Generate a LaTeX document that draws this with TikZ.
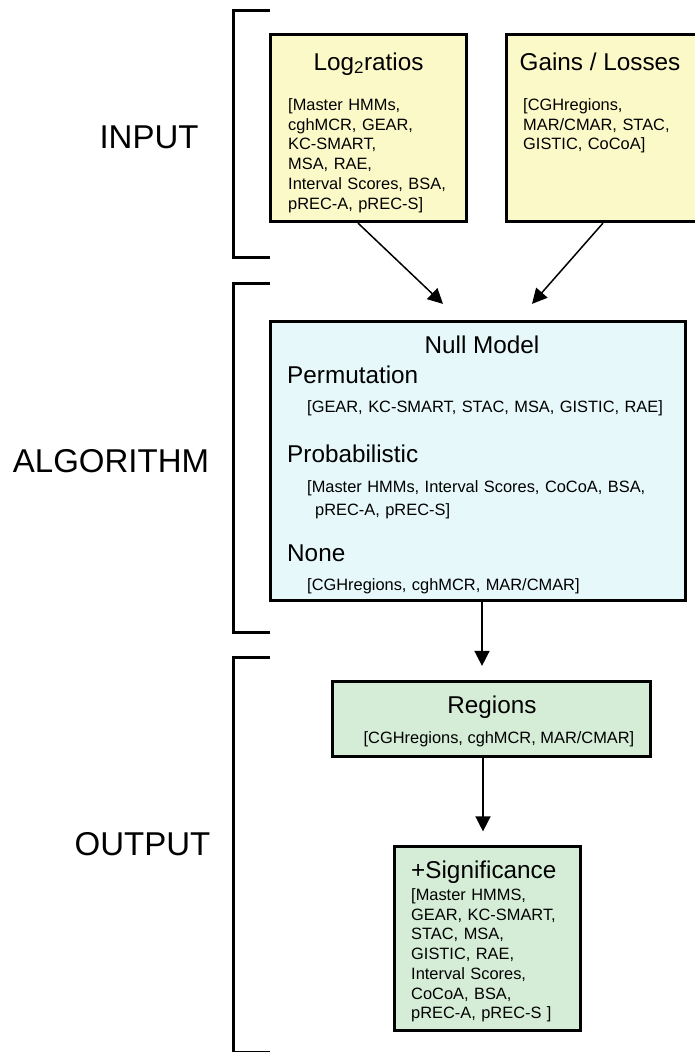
\documentclass[tikz,border=0pt]{standalone}
\usepackage{fontspec}
\setmainfont{Liberation Sans}
\usetikzlibrary{arrows.meta, positioning}
\definecolor{cinput}{HTML}{FCF9C9}
\definecolor{calgo}{HTML}{E6F8FA}
\definecolor{cout}{HTML}{D5EDD7}
\tikzset{
  % riquadro generico
  block/.style={draw=black, line width=3.2pt, inner sep=0pt},
  inblock/.style={block, fill=cinput},
  algblock/.style={block, fill=calgo},
  outblock/.style={block, fill=cout},
  % titoli e liste di metodi
  ttl/.style={font=\fontsize{24.3}{27}\selectfont, inner sep=0pt},
  lst/.style={font=\fontsize{16.4}{19.7}\selectfont, inner sep=0pt},
  lstw/.style={lst, align=left, text width=#1},
  % nome della fase
  stage/.style={font=\fontsize{33}{36}\selectfont, inner sep=0pt},
  % parentesi laterali
  brk/.style={line width=3pt},
  % frecce del flusso
  flow/.style={-{Triangle[length=15pt,width=15pt]}, line width=1.5pt},
}

\begin{document}
\begin{tikzpicture}[x=1pt, y=-1pt]
  \useasboundingbox (0,0) rectangle (694,1052);
  % fasi
  \draw[brk] (270,10) -| (233,257) -- (270,257);
  \draw[brk] (270,283) -| (233,632) -- (270,632);
  \draw[brk] (270,657) -| (233,1052) -- (270,1052);
  \node[stage, anchor=base] (lin) at (149,148) {INPUT};
  \node[stage, anchor=base] (lalg) at (111,472) {ALGORITHM};
  \node[stage, anchor=base] (lout) at (142.5,855) {OUTPUT};

  % ingresso
  \node[inblock, minimum width=196pt, minimum height=187pt] (logr) at (368.5,128) {};
  \node[inblock, minimum width=193pt, minimum height=187pt] (gain) at (603,128) {};
  \node[ttl, anchor=base] (logrt) at (368.5,70) {Log\textsubscript{2}ratios};
  \node[lstw=176pt, anchor=base west] (logrl) at (288,110.5)
    {[Master HMMs,\\ cghMCR, GEAR,\\ KC-SMART,\\ MSA, RAE,\\ Interval Scores, BSA,\\ pREC-A, pREC-S]};
  \node[ttl, anchor=base] (gaint) at (600,70) {Gains / Losses};
  \node[lstw=170pt, anchor=base west] (gainl) at (523,110.5)
    {[CGHregions,\\ MAR/CMAR, STAC,\\ GISTIC, CoCoA]};

  % modello nullo
  \node[algblock, minimum width=415pt, minimum height=279pt] (nullm) at (478,461) {};
  \node[ttl, anchor=base] (nullt) at (482,353.5) {Null Model};
  \node[ttl, anchor=base west] (perm) at (287,383.5) {Permutation};
  \node[lstw=370pt, anchor=base west] (perml) at (307,412.5) {[GEAR, KC-SMART, STAC, MSA, GISTIC, RAE]};
  \node[ttl, anchor=base west] (prob) at (287,462) {Probabilistic};
  \node[lstw=370pt, anchor=base west] (probl) at (307,492.5)
    {[Master HMMs, Interval Scores, CoCoA, BSA,\\[3pt] \hspace*{8pt}pREC-A, pREC-S]};
  \node[ttl, anchor=base west] (none) at (287,561.5) {None};
  \node[lstw=370pt, anchor=base west] (nonel) at (307,590.5) {[CGHregions, cghMCR, MAR/CMAR]};

  % uscita
  \node[outblock, minimum width=318pt, minimum height=75pt] (regs) at (491.5,719) {};
  \node[ttl, anchor=base] (regt) at (492,713.5) {Regions};
  \node[lst, anchor=base] (regl) at (499,743.5) {[CGHregions, cghMCR, MAR/CMAR]};
  \node[outblock, minimum width=186pt, minimum height=184pt] (sigf) at (487.5,938.5) {};
  \node[ttl, anchor=base west] (sigt) at (411,878.5) {+Significance};
  \node[lstw=165pt, anchor=base west] (sigl) at (411,900.5)
    {[Master HMMS,\\ GEAR, KC-SMART,\\ STAC, MSA,\\ GISTIC, RAE,\\ Interval Scores,\\ CoCoA, BSA,\\ pREC-A, pREC-S ]};

  \draw[flow] ([xshift=-10.5pt]logr.south) -- ([xshift=-35pt,yshift=16pt]nullm.north);
  \draw[flow] (gain.south) -- ([xshift=54pt,yshift=16pt]nullm.north);
  \draw[flow] ([xshift=4pt]nullm.south) -- ([xshift=-9.5pt,yshift=14pt]regs.north);
  \draw[flow] ([xshift=-8.5pt]regs.south) -- ([xshift=-4.5pt,yshift=13.5pt]sigf.north);
\end{tikzpicture}
\end{document}
